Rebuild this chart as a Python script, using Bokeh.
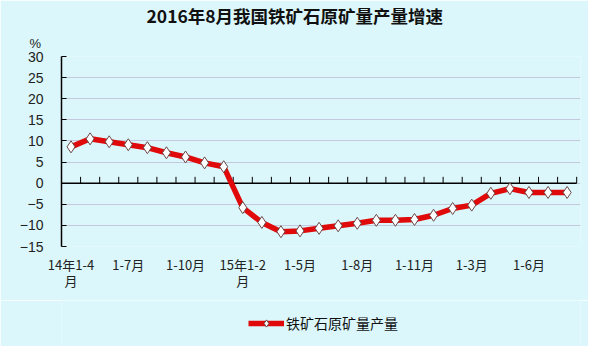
from bokeh.plotting import figure
from bokeh.layouts import column
from bokeh.models import (FixedTicker, Legend, LegendItem, Range1d, Title)
from bokeh.embed import file_html
from bokeh.resources import INLINE

title_text = "2016年8月我国铁矿石原矿量产量增速"
series_name = "铁矿石原矿量产量"
unit_text = "%"
categories = ["14年1-4月", "1-5月", "1-6月", "1-7月", "1-8月", "1-9月", "1-10月", "1-11月", "1-12月",
              "15年1-2月", "1-3月", "1-4月", "1-5月", "1-6月", "1-7月", "1-8月", "1-9月", "1-10月", "1-11月", "1-12月",
              "16年1-2月", "1-3月", "1-4月", "1-5月", "1-6月", "1-7月", "1-8月"]
values = [8.6, 10.5, 9.8, 9.1, 8.4, 7.2, 6.2, 4.8, 3.9,
          -5.8, -9.3, -11.5, -11.3, -10.7, -10.1, -9.5, -8.8, -8.8, -8.6, -7.6,
          -6.0, -5.2, -2.4, -1.3, -2.2, -2.2, -2.2]
shown_labels = {0: "14年1-4\n月", 3: "1-7月", 6: "1-10月", 9: "15年1-2\n月", 12: "1-5月",
                15: "1-8月", 18: "1-11月", 21: "1-3月", 24: "1-6月"}
y_ticks = [-15, -10, -5, 0, 5, 10, 15, 20, 25, 30]

FONT = "Noto Sans CJK SC"
BG = "#dbf7fb"
LINE_COLOR = "#e00a0a"

n = len(categories)
xs = [i + 0.5 for i in range(n)]

p = figure(frame_width=519, frame_height=190, output_backend="svg", toolbar_location=None,
           x_range=Range1d(0, n + 0.2), y_range=Range1d(-15, 30),
           min_border_left=61, min_border_right=8, min_border_top=53, min_border_bottom=54)
p.background_fill_color = BG
p.border_fill_color = BG
p.outline_line_color = None

p.title.text = title_text
p.title.align = "left"
p.title.offset = 85
p.title.standoff = 0
p.title.text_font = FONT
p.title.text_font_size = "17.5px"
p.title.text_font_style = "bold"
p.title.text_color = "#111111"

p.add_layout(Title(text=unit_text, align="left", offset=-32, standoff=12,
                   text_font="Liberation Sans", text_font_size="13px",
                   text_font_style="normal", text_color="#222222"), "above")

# axes
p.xaxis.ticker = FixedTicker(ticks=[k + 0.5 for k in shown_labels])
p.xaxis.major_label_overrides = {k + 0.5: v for k, v in shown_labels.items()}
p.xaxis.axis_line_color = None
p.xaxis.major_tick_line_color = None
p.xaxis.minor_tick_line_color = None
p.xaxis.major_label_text_font = FONT
p.xaxis.major_label_text_font_size = "13px"
p.xaxis.major_label_text_color = "#222222"
p.xaxis.major_label_text_line_height = 0.85
p.xaxis.major_label_standoff = 2

p.yaxis.ticker = FixedTicker(ticks=y_ticks)
p.yaxis.axis_line_color = "black"
p.yaxis.axis_line_width = 1.5
p.yaxis.major_tick_in = 5
p.yaxis.major_tick_out = 0
p.yaxis.major_tick_line_color = "black"
p.yaxis.minor_tick_line_color = None
p.yaxis.major_label_text_font = "Liberation Sans"
p.yaxis.major_label_text_font_size = "14px"
p.yaxis.major_label_text_color = "#222222"
p.yaxis.major_label_standoff = 18

p.xgrid.grid_line_color = None
p.ygrid.ticker = FixedTicker(ticks=y_ticks)
p.ygrid.grid_line_color = "#c4c8dc"
p.ygrid.grid_line_width = 1

# zero axis line with category ticks
p.segment(x0=[0], y0=[0], x1=[n], y1=[0], line_color="black", line_width=1.5)
bounds = list(range(1, n + 1))
p.segment(x0=bounds, y0=[0] * n, x1=bounds, y1=[1.5] * n, line_color="black", line_width=1)

p.line(xs, values, line_color=LINE_COLOR, line_width=5.5, line_join="round")
p.scatter(xs, values, marker="diamond", size=12, fill_color="white",
          line_color="#6a4848", line_width=1)

# legend strip below the chart (series drawn out of view; only its legend entry shows)
lg = figure(width=588, height=46, output_backend="svg", toolbar_location=None,
            x_range=Range1d(0, 1), y_range=Range1d(100, 101),
            min_border=0)
lg.axis.visible = False
lg.grid.visible = False
lg.outline_line_color = None
lg.background_fill_color = BG
lg.border_fill_color = BG
l_line = lg.line(xs, values, line_color=LINE_COLOR, line_width=5.5)
l_mark = lg.scatter(xs, values, marker="diamond", size=9, fill_color="white",
                    line_color="#6a4848", line_width=1)
legend = Legend(items=[LegendItem(label=series_name, renderers=[l_line, l_mark])],
                location=(187, 13), orientation="horizontal",
                label_text_font=FONT, label_text_font_size="14px", label_text_color="#111111",
                glyph_width=36, glyph_height=18, padding=0, margin=0, spacing=0,
                label_standoff=2, border_line_color=None, background_fill_alpha=0)
lg.add_layout(legend, "center")

layout = column(p, lg, spacing=0)
open("out.html", "w").write(file_html(layout, INLINE))
